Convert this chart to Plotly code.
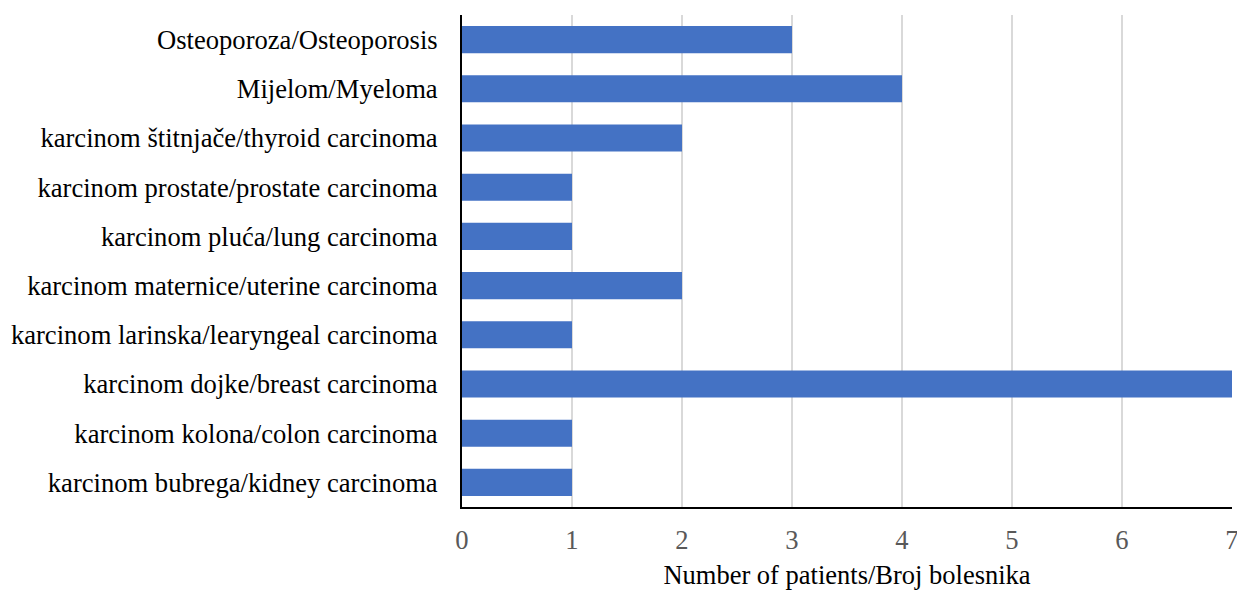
import plotly.graph_objects as go

categories = [
    "karcinom bubrega/kidney carcinoma",
    "karcinom kolona/colon carcinoma",
    "karcinom dojke/breast carcinoma",
    "karcinom larinska/learyngeal carcinoma",
    "karcinom maternice/uterine carcinoma",
    "karcinom pluća/lung carcinoma",
    "karcinom prostate/prostate carcinoma",
    "karcinom štitnjače/thyroid carcinoma",
    "Mijelom/Myeloma",
    "Osteoporoza/Osteoporosis",
]
patients = [1, 1, 7, 1, 2, 1, 1, 2, 4, 3]
x_ticks = [0, 1, 2, 3, 4, 5, 6, 7]

fig = go.Figure(go.Bar(
    y=categories, x=patients, orientation="h",
    marker=dict(color="#4472C4", line=dict(width=0)),
))

font = "Liberation Serif, Times New Roman, serif"
fig.update_layout(
    width=1237, height=590,
    margin=dict(l=462, r=5, t=15, b=83, autoexpand=False),
    plot_bgcolor="white", paper_bgcolor="white",
    bargap=0.45,
    showlegend=False,
    font=dict(family=font, size=26.6, color="black"),
    xaxis=dict(
        range=[0, 7], tickvals=x_ticks, showgrid=True, gridcolor="#D9D9D9", gridwidth=1.5,
        zeroline=False, showline=True, linecolor="black", linewidth=2,
        tickfont=dict(family=font, size=26.6, color="#595959"),
        ticks="outside", ticklen=8, tickcolor="rgba(0,0,0,0)",
        ticklabeloverflow="allow", automargin=False,
        title=dict(text="Number of patients/Broj bolesnika", font=dict(family=font, size=26.5, color="black"), standoff=14),
    ),
    yaxis=dict(
        showline=True, linecolor="black", linewidth=2, showgrid=False,
        tickfont=dict(family=font, size=26.6, color="black"),
        ticks="outside", ticklen=17, tickcolor="rgba(0,0,0,0)",
        automargin=False,
    ),
)
fig.write_html(
    "out.html",
    config={"displayModeBar": False},
    post_script="document.body.style.margin='0';document.body.style.overflow='hidden';",
)
